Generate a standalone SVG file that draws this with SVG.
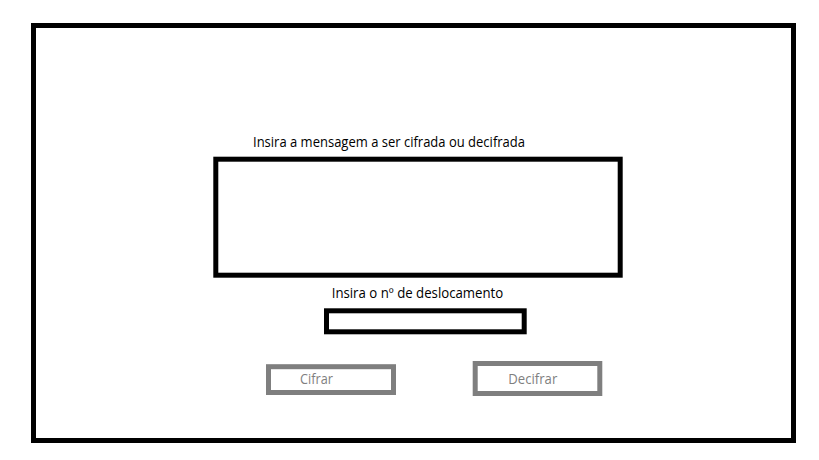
<svg xmlns="http://www.w3.org/2000/svg" width="819" height="460" viewBox="0 0 819 460">
<style>
.frame{fill:#ffffff;stroke:#000000;stroke-width:5}
.btn{fill:#ffffff;stroke:#7f7f7f;stroke-width:5}
.lbl{font-family:"Open Sans","Liberation Sans",sans-serif;font-size:14px;fill:#000000}
.btxt{font-family:"Open Sans","Liberation Sans",sans-serif;font-size:14px;fill:#7f7f7f}
</style>
<rect width="819" height="460" fill="#ffffff"/>
<g id="window">
<rect class="frame" x="33.5" y="25.5" width="760" height="415"/>
</g>
<g id="message-label">
<text class="lbl" x="253" y="147" textLength="272" lengthAdjust="spacingAndGlyphs">Insira a mensagem a ser cifrada ou decifrada</text>
</g>
<g id="message-box">
<rect class="frame" x="215.8" y="159.2" width="404.4" height="116"/>
</g>
<g id="shift-label">
<text class="lbl" x="331.7" y="298.3" textLength="171.6" lengthAdjust="spacingAndGlyphs">Insira o nº de deslocamento</text>
</g>
<g id="shift-box">
<rect class="frame" x="326.5" y="310.8" width="197.7" height="21"/>
</g>
<g id="btn-cifrar">
<rect class="btn" x="268.5" y="366.7" width="125" height="25.8"/>
<text class="btxt" x="300" y="384" textLength="33" lengthAdjust="spacingAndGlyphs">Cifrar</text>
</g>
<g id="btn-decifrar">
<rect class="btn" x="475.2" y="363.5" width="124.6" height="30"/>
<text class="btxt" x="508.3" y="384.3" textLength="49" lengthAdjust="spacingAndGlyphs">Decifrar</text>
</g>
<g id="connectors"></g>
</svg>
